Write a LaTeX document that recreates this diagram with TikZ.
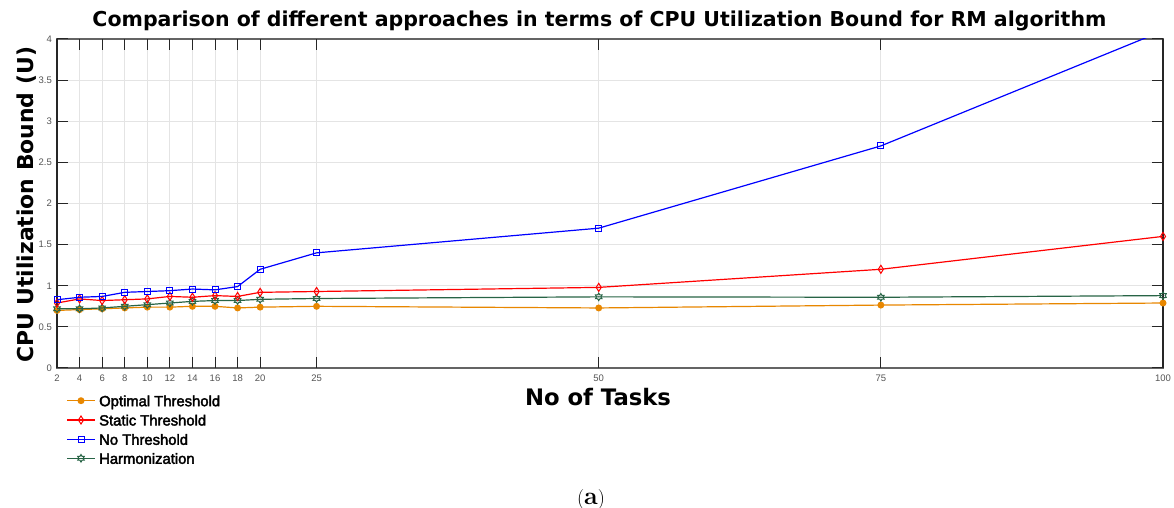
\documentclass[tikz,border=0pt]{standalone}
\usepackage{fontspec}
\usepackage{graphicx}
\newfontfamily\djv{DejaVu Sans}
\newfontfamily\arialf{Liberation Sans}
\newfontfamily\arialfb[FakeBold=2.5]{Liberation Sans}
\usetikzlibrary{shapes.geometric}
\definecolor{ocol}{RGB}{232,135,0}
\definecolor{rcol}{RGB}{255,0,0}
\definecolor{bcol}{RGB}{0,0,255}
\definecolor{gcol}{RGB}{40,100,70}
\definecolor{gridc}{RGB}{228,228,228}
\definecolor{axc}{RGB}{38,38,38}
\definecolor{boxc}{RGB}{100,100,100}
\definecolor{tickl}{RGB}{85,85,85}
\tikzset{
  dline/.style={line width=1.2pt},
  omark/.style={circle, fill=ocol, draw=none, inner sep=0pt, minimum size=7pt},
  rmark/.style={diamond, draw=rcol, line width=1pt, inner sep=0pt, minimum width=5.5pt, minimum height=8.5pt},
  bmark/.style={rectangle, draw=bcol, line width=1pt, inner sep=0pt, minimum size=6pt},
  gmark/.style={star, star points=6, star point ratio=1.7, draw=gcol, line width=1pt, inner sep=0pt, minimum size=7.5pt},
  ytl/.style={anchor=east, inner sep=0pt, text=tickl, font=\arialf\fontsize{9.5}{11}\selectfont},
  xtl/.style={anchor=north, inner sep=0pt, text=tickl, font=\arialf\fontsize{9.5}{11}\selectfont},
  legtext/.style={anchor=base west, inner sep=0pt, font=\arialfb\fontsize{14.8}{16}\selectfont},
}
\begin{document}
\begin{tikzpicture}[x=1pt,y=1pt]
\useasboundingbox (0,0) rectangle (1174,508);
\fill[white] (0,0) rectangle (1174,508);

% title
\node[anchor=base, inner sep=0pt] (title) at (599.5,481.3)
  {\resizebox{1014pt}{!}{\djv\bfseries\fontsize{19}{22}\selectfont Comparison of different approaches in terms of CPU Utilization Bound for RM algorithm}};
% y label
\node[anchor=base, rotate=90, inner sep=0pt] (ylab) at (33,303)
  {\resizebox{316pt}{!}{\djv\bfseries\fontsize{20}{24}\selectfont CPU Utilization Bound (U)}};
% x label
\node[anchor=base, inner sep=0pt] (xlab) at (598,102.3)
  {\resizebox{146pt}{!}{\djv\bfseries\fontsize{22}{26}\selectfont No of Tasks}};
% caption
\node[anchor=base, inner sep=0pt] (cap) at (591,3.5)
  {\fontsize{20}{22}\selectfont (\textbf{\fontsize{25}{26}\selectfont a})};

\begin{scope}[shift={(34.43pt,140pt)}, x=11.2857pt, y=82.25pt]
  % grid
  \foreach \t in {4,6,8,10,12,14,16,18,20,25,50,75}
    \draw[gridc, line width=1pt] (\t,0) -- (\t,4);
  \foreach \v in {0.5,1,1.5,2,2.5,3,3.5}
    \draw[gridc, line width=1pt] (2,\v) -- (100,\v);
  % box
  \draw[boxc, line width=1.4pt] (2,0) rectangle (100,4);
  \draw[axc, line width=1.2pt] (2,0) -- (2,4);
  \draw[axc, line width=1.2pt] (100,0) -- (100,4);
  % ticks
  \foreach \t in {2,4,6,8,10,12,14,16,18,20,25,50,75,100} {
    \draw[axc, line width=1pt] (\t,0) -- ++(0,11pt);
    \draw[axc, line width=1pt] (\t,4) -- ++(0,-11pt);
    \node[xtl] (xt\t) at ([yshift=-7pt]\t,0) {\t};
  }
  \foreach \v/\l in {0/0,0.5/0.5,1/1,1.5/1.5,2/2,2.5/2.5,3/3,3.5/3.5,4/4} {
    \draw[axc, line width=1pt] (2,\v) -- ++(11pt,0);
    \draw[axc, line width=1pt] (100,\v) -- ++(-11pt,0);
    \node[ytl] (yt\l) at ([xshift=-5pt]2,\v) {\l};
  }
  % Optimal threshold
  \draw[ocol, dline] plot coordinates {(2,.70) (4,.71) (6,.72) (8,.73) (10,.74) (12,.74) (14,.75) (16,.75) (18,.73) (20,.74) (25,.75) (50,.73) (75,.765) (100,.79)};
  \foreach \t/\v in {2/.70,4/.71,6/.72,8/.73,10/.74,12/.74,14/.75,16/.75,18/.73,20/.74,25/.75,50/.73,75/.765,100/.79}
    \node[omark] (o\t) at (\t,\v) {};
  % Harmonization
  \draw[gcol, dline] plot coordinates {(2,.72) (4,.72) (6,.73) (8,.75) (10,.77) (12,.79) (14,.81) (16,.82) (18,.82) (20,.835) (25,.845) (50,.865) (75,.86) (100,.88)};
  \foreach \t/\v in {2/.72,4/.72,6/.73,8/.75,10/.77,12/.79,14/.81,16/.82,18/.82,20/.835,25/.845,50/.865,75/.86,100/.88}
    \node[gmark] (g\t) at (\t,\v) {};
  % Static threshold
  \draw[rcol, dline] plot coordinates {(2,.79) (4,.84) (6,.82) (8,.83) (10,.84) (12,.87) (14,.86) (16,.88) (18,.87) (20,.92) (25,.93) (50,.98) (75,1.2) (100,1.6)};
  \foreach \t/\v in {2/.79,4/.84,6/.82,8/.83,10/.84,12/.87,14/.86,16/.88,18/.87,20/.92,25/.93,50/.98,75/1.2,100/1.6}
    \node[rmark] (r\t) at (\t,\v) {};
  % No threshold
  \begin{scope}
    \clip (2,0) rectangle (100,4);
    \draw[bcol, dline] plot coordinates {(2,.83) (4,.86) (6,.87) (8,.92) (10,.93) (12,.94) (14,.96) (16,.95) (18,.99) (20,1.2) (25,1.4) (50,1.7) (75,2.7) (100,4.1)};
  \end{scope}
  \foreach \t/\v in {2/.83,4/.86,6/.87,8/.92,10/.93,12/.94,14/.96,16/.95,18/.99,20/1.2,25/1.4,50/1.7,75/2.7}
    \node[bmark] (b\t) at (\t,\v) {};
\end{scope}

% legend
\coordinate (l1a) at (67,107.3); \coordinate (l1b) at (95,107.3);
\draw[ocol, dline] (l1a) -- (l1b);
\node[omark] (lm1) at (81,107.3) {};
\node[legtext] (lt1) at (99,101.8) {Optimal Threshold};
\coordinate (l2a) at (67,88); \coordinate (l2b) at (95,88);
\draw[rcol, dline] (l2a) -- (l2b);
\node[rmark] (lm2) at (81,88) {};
\node[legtext] (lt2) at (99,82.5) {Static Threshold};
\coordinate (l3a) at (67,68.7); \coordinate (l3b) at (95,68.7);
\draw[bcol, dline] (l3a) -- (l3b);
\node[bmark] (lm3) at (81,68.7) {};
\node[legtext] (lt3) at (99,63.2) {No Threshold};
\coordinate (l4a) at (67,49.7); \coordinate (l4b) at (95,49.7);
\draw[gcol, dline] (l4a) -- (l4b);
\node[gmark] (lm4) at (81,49.7) {};
\node[legtext] (lt4) at (99,44.2) {Harmonization};
\end{tikzpicture}
\end{document}
